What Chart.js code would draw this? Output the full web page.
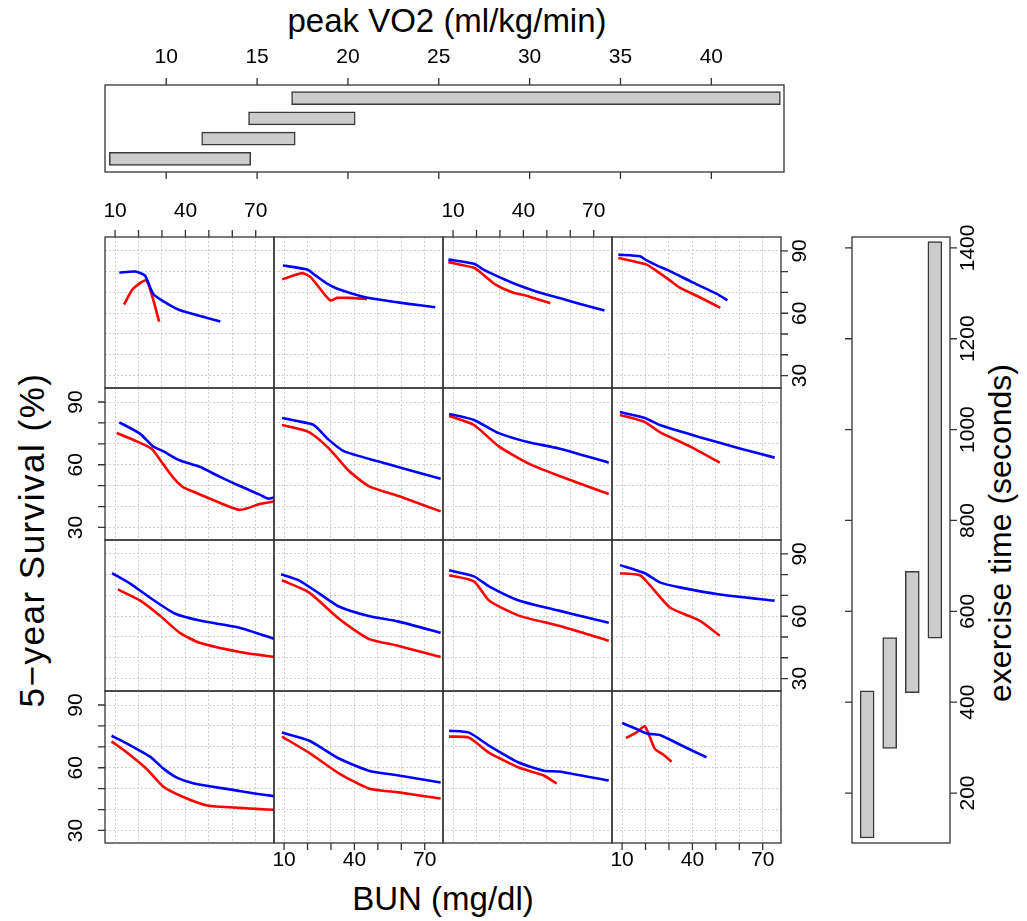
<!DOCTYPE html>
<html lang="en">
<head>
<meta charset="UTF-8">
<title>5-year survival by BUN, peak VO2 and exercise time</title>
<script src="https://cdn.jsdelivr.net/npm/chart.js"></script>
<style>
  body { margin: 0; background: #fff; }
  #fig { position: relative; width: 1027px; height: 921px; overflow: hidden; font-family: "Liberation Sans", Arial, sans-serif; }
  #fig canvas { position: absolute; left: 0; top: 0; }
  .lab { position: absolute; font-size: 33px; color: #000; white-space: nowrap; transform: translate(-50%, -50%); }
  .rot { transform: translate(-50%, -50%) rotate(-90deg); }
</style>
</head>
<body>
<div id="fig">
  <div class="lab" style="left:447px; top:21px;">peak VO2 (ml/kg/min)</div>
  <div class="lab" style="left:443px; top:899px;">BUN (mg/dl)</div>
  <div class="lab rot" style="left:32px; top:540px; font-size:35px; letter-spacing:1.5px;">5−year Survival (%)</div>
  <div class="lab rot" style="left:1000px; top:533px; font-size:32px;">exercise time (seconds)</div>
</div>

<script>
// shingle intervals (level 1 = lowest)
const vo2Lo = [6.87, 11.95, 14.53, 16.9];
const vo2Hi = [14.65, 17.1, 20.4, 43.8];
const exLo = [101, 298, 421, 541];
const exHi = [425, 542, 688, 1414];

const vo2Ticks = [10, 15, 20, 25, 30, 35, 40];
const exTicks = [200, 400, 600, 800, 1000, 1200, 1400];
const bunTicks = [10, 20, 30, 40, 50, 60, 70];
const bunLabels = [10, 40, 70];
const survTicks = [30, 40, 50, 60, 70, 80, 90];
const survLabels = [30, 60, 90];

// survival curves, [BUN, survival %]; r = panel row from top, c = column
const r1c1Blue = [[11.8,79.5],[18.5,80.1],[22.7,78.2],[26.2,69.4],[30.5,65.8],[36.9,61.8],[44.7,59.2],[54.9,56.0]];
const r1c1Red  = [[13.8,64.2],[17.7,71.8],[23.4,75.8],[28.8,56.0]];
const r1c2Blue = [[9.5,83.0],[19.9,81.0],[23.4,78.2],[28.4,74.2],[32.7,71.8],[43.3,68.1],[53.2,66.1],[63.1,64.5],[74.5,62.9]];
const r1c2Red  = [[9.2,76.3],[17.7,79.3],[21.3,77.4],[27.0,69.4],[29.8,66.1],[32.6,67.4],[37.6,67.4],[45.4,66.9]];
const r1c3Blue = [[8.0,85.8],[18.9,83.8],[22.4,81.4],[28.1,78.2],[35.2,74.7],[45.1,70.6],[55.1,67.4],[65.0,64.2],[74.6,61.3]];
const r1c3Red  = [[8.0,84.6],[18.9,81.9],[22.4,79.0],[28.1,73.8],[35.2,70.1],[42.3,68.1],[51.5,64.8]];
const r1c4Blue = [[8.4,88.2],[17.6,87.4],[20.5,85.4],[25.4,82.7],[30.4,80.3],[40.3,74.7],[50.3,69.4],[54.9,66.2]];
const r1c4Red  = [[8.4,86.6],[20.5,83.4],[25.4,79.8],[30.4,75.8],[34.6,72.3],[43.1,67.7],[51.9,62.6]];

const r2c1Blue = [[11.8,80.3],[20.6,74.9],[26.3,68.7],[30.5,66.5],[36.9,62.4],[46.1,59.0],[54.6,54.3],[63.2,49.8],[71.7,45.7],[75.2,43.8],[78,44.4]];
const r2c1Red  = [[10.7,75.2],[19.2,71.2],[25.6,67.6],[30.5,60.3],[34.8,53.8],[39.0,49.3],[44.7,46.5],[53.2,42.5],[63.2,38.4],[71.7,41.2],[78,42.5]];
const r2c2Blue = [[9.1,82.4],[15.0,81.0],[22.7,79.0],[29.0,72.0],[35.5,66.5],[50.4,61.5],[76.8,53.3]];
const r2c2Red  = [[9.1,79.0],[20.6,75.6],[29.1,67.8],[37.6,57.1],[46.1,49.8],[58.9,45.0],[76.8,37.7]];
const r2c3Blue = [[8.3,84.3],[18.9,81.4],[29.5,75.1],[42.3,70.7],[55.1,67.8],[76.4,61.0]];
const r2c3Red  = [[8.3,83.3],[18.9,79.0],[29.5,68.8],[42.3,60.5],[55.1,54.7],[76.4,46.0]];
const r2c4Blue = [[9.1,85.2],[19.7,82.4],[26.1,79.0],[43.1,73.2],[60.2,67.8],[75.1,63.4]];
const r2c4Red  = [[9.1,83.8],[19.7,80.4],[26.1,75.6],[38.9,68.8],[51.7,61.0]];

const r3c1Blue = [[8.7,80.7],[16.3,75.8],[24.8,69.0],[35.5,61.3],[46.1,57.9],[63.1,54.5],[78,49.1]];
const r3c1Red  = [[11.2,72.9],[20.6,67.6],[29.1,60.3],[37.6,52.0],[46.1,47.2],[63.1,42.8],[78,40.4]];
const r3c2Blue = [[8.7,80.2],[16.3,77.3],[24.9,71.0],[33.4,64.7],[46.1,60.1],[58.9,57.4],[76.8,52.0]];
const r3c2Red  = [[9.1,77.3],[20.6,71.5],[33.4,58.8],[46.1,49.1],[58.9,45.7],[76.8,40.4]];
const r3c3Blue = [[8.3,82.1],[18.9,79.2],[25.3,74.4],[38.0,67.6],[55.1,62.7],[76.4,56.9]];
const r3c3Red  = [[8.3,79.7],[18.9,76.8],[25.3,67.6],[38.0,60.3],[55.1,55.4],[76.4,48.2]];
const r3c4Blue = [[9.1,84.6],[19.7,80.7],[26.1,76.3],[34.6,73.9],[51.7,70.5],[75.1,67.5]];
const r3c4Red  = [[9.1,80.7],[17.6,79.7],[21.9,74.9],[30.4,64.2],[43.1,57.9],[51.7,50.6]];

const r4c1Blue = [[8.5,75.3],[14.9,71.7],[24.9,65.3],[30.5,59.7],[36.2,55.4],[43.3,52.6],[50.4,51.1],[60.3,49.4],[68.8,47.8],[78,46.4]];
const r4c1Red  = [[8.5,72.6],[14.9,67.4],[23.4,59.5],[30.5,51.0],[37.6,46.7],[47.5,42.4],[51.8,41.6],[63.1,40.8],[71.7,40.2],[78,39.9]];
const r4c2Blue = [[9.1,76.8],[20.6,73.0],[33.4,64.4],[46.1,58.6],[58.9,56.3],[76.8,52.9]];
const r4c2Red  = [[9.1,74.9],[20.6,67.2],[33.4,57.3],[46.1,50.1],[58.9,48.2],[76.8,45.3]];
const r4c3Blue = [[8.3,77.7],[16.8,76.8],[25.3,70.6],[38.0,62.5],[48.7,58.6],[55.1,58.2],[76.4,53.9]];
const r4c3Red  = [[8.3,74.9],[16.8,74.4],[25.3,67.2],[38.0,60.1],[48.7,56.3],[54.2,52.4]];
const r4c4Blue = [[10,81.4],[16.2,78.5],[20.5,76.4],[26.1,75.7],[29,74.2],[34.6,71.1],[40.3,68.0],[46,65.0]];
const r4c4Red  = [[11.7,74.2],[16.2,76.9],[19.7,79.8],[24,69.0],[27.5,66.3],[31.1,62.9]];

const blueRows = [
  [r1c1Blue, r1c2Blue, r1c3Blue, r1c4Blue],
  [r2c1Blue, r2c2Blue, r2c3Blue, r2c4Blue],
  [r3c1Blue, r3c2Blue, r3c3Blue, r3c4Blue],
  [r4c1Blue, r4c2Blue, r4c3Blue, r4c4Blue]
];
const redRows = [
  [r1c1Red, r1c2Red, r1c3Red, r1c4Red],
  [r2c1Red, r2c2Red, r2c3Red, r2c4Red],
  [r3c1Red, r3c2Red, r3c3Red, r3c4Red],
  [r4c1Red, r4c2Red, r4c3Red, r4c4Red]
];

// page layout
const W = 1027, H = 921;
const colX = [105, 274, 443, 612, 781];
const rowY = [237, 388, 540, 691, 843];
const FONT = '21px "Liberation Sans", Arial, sans-serif';
const TICK = 7;

// box, tick marks and tick labels drawn around the chart area
const deco = {
  id: 'deco',
  afterDraw(chart, args, opts) {
    const { ctx, chartArea: a, scales: { x, y } } = chart;
    ctx.save();
    ctx.strokeStyle = '#333';
    ctx.lineWidth = 1.3;
    ctx.strokeRect(a.left, a.top, a.right - a.left, a.bottom - a.top);
    ctx.fillStyle = '#000';
    ctx.font = FONT;
    ctx.textAlign = 'center';
    ctx.textBaseline = 'middle';
    (opts.sides || []).forEach(s => {
      const horiz = s.side === 'top' || s.side === 'bottom';
      const sc = horiz ? x : y;
      ctx.beginPath();
      s.ticks.forEach(v => {
        const p = sc.getPixelForValue(v);
        if (s.side === 'top') { ctx.moveTo(p, a.top); ctx.lineTo(p, a.top - TICK); }
        if (s.side === 'bottom') { ctx.moveTo(p, a.bottom); ctx.lineTo(p, a.bottom + TICK); }
        if (s.side === 'left') { ctx.moveTo(a.left, p); ctx.lineTo(a.left - TICK, p); }
        if (s.side === 'right') { ctx.moveTo(a.right, p); ctx.lineTo(a.right + TICK, p); }
      });
      ctx.stroke();
      (s.labels || []).forEach(v => {
        const p = sc.getPixelForValue(v);
        if (s.side === 'top') ctx.fillText(String(v), p, a.top - s.gap);
        else if (s.side === 'bottom') ctx.fillText(String(v), p, a.bottom + s.gap);
        else {
          const cx = s.side === 'left' ? a.left - s.gap : a.right + s.gap;
          ctx.save();
          ctx.translate(cx, p);
          ctx.rotate(-Math.PI / 2);
          ctx.fillText(String(v), 0, 0);
          ctx.restore();
        }
      });
    });
    ctx.restore();
  }
};

function makeCanvas() {
  const c = document.createElement('canvas');
  c.width = W; c.height = H;
  c.style.width = W + 'px'; c.style.height = H + 'px';
  document.getElementById('fig').appendChild(c);
  return c;
}

function pad(x0, y0, x1, y1) {
  return { left: x0, top: y0, right: W - x1, bottom: H - y1 };
}

const pts = arr => arr.map(p => ({ x: p[0], y: p[1] }));

function hiddenAxis(min, max, ticks, grid) {
  return {
    type: 'linear', min, max, offset: false,
    ticks: { display: false },
    grid: { display: grid, color: '#cfcfcf', lineWidth: 1, drawTicks: false, tickLength: 0 },
    border: { display: false, dash: [2, 2] },
    afterBuildTicks: s => { s.ticks = ticks.map(v => ({ value: v })); }
  };
}

const baseOpts = {
  responsive: false,
  animation: false,
  devicePixelRatio: 1,
  events: []
};

// 4 x 4 panels
for (let r = 0; r < 4; r++) {
  for (let c = 0; c < 4; c++) {
    const sides = [];
    if (r === 0 && (c === 0 || c === 2)) sides.push({ side: 'top', ticks: bunTicks, labels: bunLabels, gap: 26 });
    if (r === 3 && (c === 1 || c === 3)) sides.push({ side: 'bottom', ticks: bunTicks, labels: bunLabels, gap: 17 });
    if (c === 0 && (r === 1 || r === 3)) sides.push({ side: 'left', ticks: survTicks, labels: survLabels, gap: 29 });
    if (c === 3 && (r === 0 || r === 2)) sides.push({ side: 'right', ticks: survTicks, labels: survLabels, gap: 19 });

    new Chart(makeCanvas(), {
      type: 'line',
      data: {
        datasets: [
          { data: pts(blueRows[r][c]), borderColor: '#0000ff', borderWidth: 2.6, pointRadius: 0, tension: 0.2, fill: false },
          { data: pts(redRows[r][c]), borderColor: '#ff0000', borderWidth: 2.6, pointRadius: 0, tension: 0.2, fill: false }
        ]
      },
      options: Object.assign({}, baseOpts, {
        layout: { padding: pad(colX[c], rowY[r], colX[c + 1], rowY[r + 1]) },
        plugins: { legend: { display: false }, tooltip: { enabled: false }, deco: { sides } },
        scales: {
          x: hiddenAxis(5.7, 77.8, bunTicks, true),
          y: hiddenAxis(24, 96.7, survTicks, true)
        }
      }),
      plugins: [deco]
    });
  }
}

// peak VO2 shingle (top)
new Chart(makeCanvas(), {
  type: 'bar',
  data: {
    datasets: [{
      data: vo2Lo.map((lo, i) => ({ x: [lo, vo2Hi[i]], y: i + 1 })),
      backgroundColor: '#cccccc', borderColor: '#3a3a3a', borderWidth: 1.5,
      borderSkipped: false, barThickness: 13
    }]
  },
  options: Object.assign({}, baseOpts, {
    indexAxis: 'y',
    layout: { padding: pad(105, 85, 784, 172) },
    plugins: {
      legend: { display: false }, tooltip: { enabled: false },
      deco: { sides: [
        { side: 'top', ticks: vo2Ticks, labels: vo2Ticks, gap: 28 },
        { side: 'bottom', ticks: vo2Ticks }
      ] }
    },
    scales: {
      x: hiddenAxis(6.63, 44.0, vo2Ticks, false),
      y: hiddenAxis(0.35, 4.65, [1, 2, 3, 4], false)
    }
  }),
  plugins: [deco]
});

// exercise time shingle (right)
new Chart(makeCanvas(), {
  type: 'bar',
  data: {
    datasets: [{
      data: exLo.map((lo, i) => ({ x: i + 1, y: [lo, exHi[i]] })),
      backgroundColor: '#cccccc', borderColor: '#3a3a3a', borderWidth: 1.5,
      borderSkipped: false, barThickness: 14
    }]
  },
  options: Object.assign({}, baseOpts, {
    layout: { padding: pad(852, 237, 950, 843) },
    plugins: {
      legend: { display: false }, tooltip: { enabled: false },
      deco: { sides: [
        { side: 'right', ticks: exTicks, labels: exTicks, gap: 18 },
        { side: 'left', ticks: exTicks }
      ] }
    },
    scales: {
      x: hiddenAxis(0.33, 4.67, [1, 2, 3, 4], false),
      y: hiddenAxis(90, 1424, exTicks, false)
    }
  }),
  plugins: [deco]
});
</script>
</body>
</html>
